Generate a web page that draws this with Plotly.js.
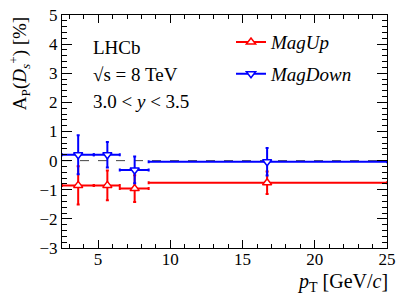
<!DOCTYPE html>
<html>
<head>
<meta charset="utf-8">
<script src="https://cdn.plot.ly/plotly-3.0.1.min.js"></script>
<style>html,body{margin:0;padding:0;background:#fff;}</style>
</head>
<body>
<div id="chart" style="width:407px;height:295px;"></div>
<script>
// Bin edges in pT [GeV/c]
const binLow  = [2.5, 4.7, 6.5, 8.5];
const binHigh = [4.7, 6.5, 8.5, 25.0];
// Mean pT of each bin (marker position)
const ptMean  = [3.62, 5.64, 7.53, 16.7];

// MagUp asymmetry [%] and uncertainty
const magUpVal = [-0.85, -0.85, -0.96, -0.76];
const magUpErr = [0.66, 0.51, 0.46, 0.39];
// MagDown asymmetry [%] and uncertainty
const magDownVal = [0.20, 0.20, -0.32, -0.04];
const magDownErr = [0.67, 0.44, 0.46, 0.47];

const xTickVals = [5, 10, 15, 20, 25];
const yTickVals = [-3, -2, -1, 0, 1, 2, 3, 4, 5];

const errPlus  = ptMean.map((m, i) => binHigh[i] - m);
const errMinus = ptMean.map((m, i) => m - binLow[i]);

const FONT = 'Times New Roman';

function series(name, vals, errs, color, symbol) {
  return {
    type: 'scatter', mode: 'markers', x: ptMean, y: vals, showlegend: false,
    marker: {symbol: symbol, size: 8, color: 'white', line: {color: color, width: 1.5}},
    error_x: {type: 'data', symmetric: false, array: errPlus, arrayminus: errMinus,
              color: color, thickness: 2, width: 1.5},
    error_y: {type: 'data', array: errs, color: color, thickness: 2, width: 1.5},
    cliponaxis: false
  };
}
function legendEntry(name, color, symbol, group) {
  return {
    type: 'scatter', mode: 'lines+markers', x: [null], y: [null], name: name,
    legendgroup: group,
    line: {color: color, width: 2},
    marker: {symbol: symbol, size: 8, color: 'white', line: {color: color, width: 1.5}}
  };
}

const data = [
  series('MagUp', magUpVal, magUpErr, 'red', 'triangle-up'),
  series('MagDown', magDownVal, magDownErr, 'blue', 'triangle-down'),
  legendEntry('<i>MagUp</i>', 'red', 'triangle-up', 'a'),
  legendEntry('<i>MagDown</i>', 'blue', 'triangle-down', 'b')
];

const axisCommon = {
  showline: true, linecolor: 'black', linewidth: 1, mirror: 'ticks',
  ticks: 'inside', tickcolor: 'black', showgrid: false, zeroline: false,
  tickfont: {family: FONT, size: 17, color: 'black'}
};

const layout = {
  width: 407, height: 295,
  margin: {l: 62, r: 20, t: 15, b: 47},
  paper_bgcolor: 'white', plot_bgcolor: 'white',
  font: {family: FONT, color: 'black'},
  xaxis: Object.assign({}, axisCommon, {
    range: [2.5, 25], tickvals: xTickVals, ticklen: 8, tickwidth: 1,
    ticklabelstandoff: -4,
    minor: {dtick: 1, tick0: 0, ticklen: 4, ticks: 'inside', tickcolor: 'black'}
  }),
  yaxis: Object.assign({}, axisCommon, {
    range: [-3, 5], tickvals: yTickVals, ticklen: 10, tickwidth: 1,
    minor: {dtick: 0.2, tick0: 0, ticklen: 5, ticks: 'inside', tickcolor: 'black'}
  }),
  showlegend: true,
  legend: {x: 0.52, y: 0.965, xanchor: 'left', yanchor: 'top',
           bgcolor: 'rgba(0,0,0,0)', font: {family: FONT, size: 19},
           tracegroupgap: 4, traceorder: 'grouped', itemwidth: 30},
  shapes: [{type: 'line', xref: 'paper', x0: 0, x1: 1, yref: 'y', y0: 0, y1: 0,
            line: {color: '#444', width: 1, dash: 'dash'}, layer: 'below'}],
  annotations: [
    {text: 'LHCb', xref: 'paper', yref: 'paper', x: 0.09, y: 0.86, xanchor: 'left', yanchor: 'middle',
     showarrow: false, font: {family: FONT, size: 19}},
    {text: '√s = 8 TeV', xref: 'paper', yref: 'paper', x: 0.09, y: 0.745, xanchor: 'left', yanchor: 'middle',
     showarrow: false, font: {family: FONT, size: 19}},
    {text: '3.0 < <i>y</i> < 3.5', xref: 'paper', yref: 'paper', x: 0.09, y: 0.63, xanchor: 'left', yanchor: 'middle',
     showarrow: false, font: {family: FONT, size: 19}},
    {text: '<i>p</i><sub>T</sub> [GeV/<i>c</i>]', xref: 'paper', yref: 'paper', x: 1.01, y: -0.085,
     xanchor: 'right', yanchor: 'top', showarrow: false, font: {family: FONT, size: 20}},
    {text: 'A<sub>P</sub>(<i>D</i><sub><i>s</i></sub><sup>+</sup>) [%]', xref: 'paper', yref: 'paper',
     x: -0.13, y: 1.0, xanchor: 'center', yanchor: 'top', textangle: -90, showarrow: false,
     font: {family: FONT, size: 19}}
  ]
};

Plotly.newPlot('chart', data, layout, {staticPlot: true, displayModeBar: false});
</script>
</body>
</html>
